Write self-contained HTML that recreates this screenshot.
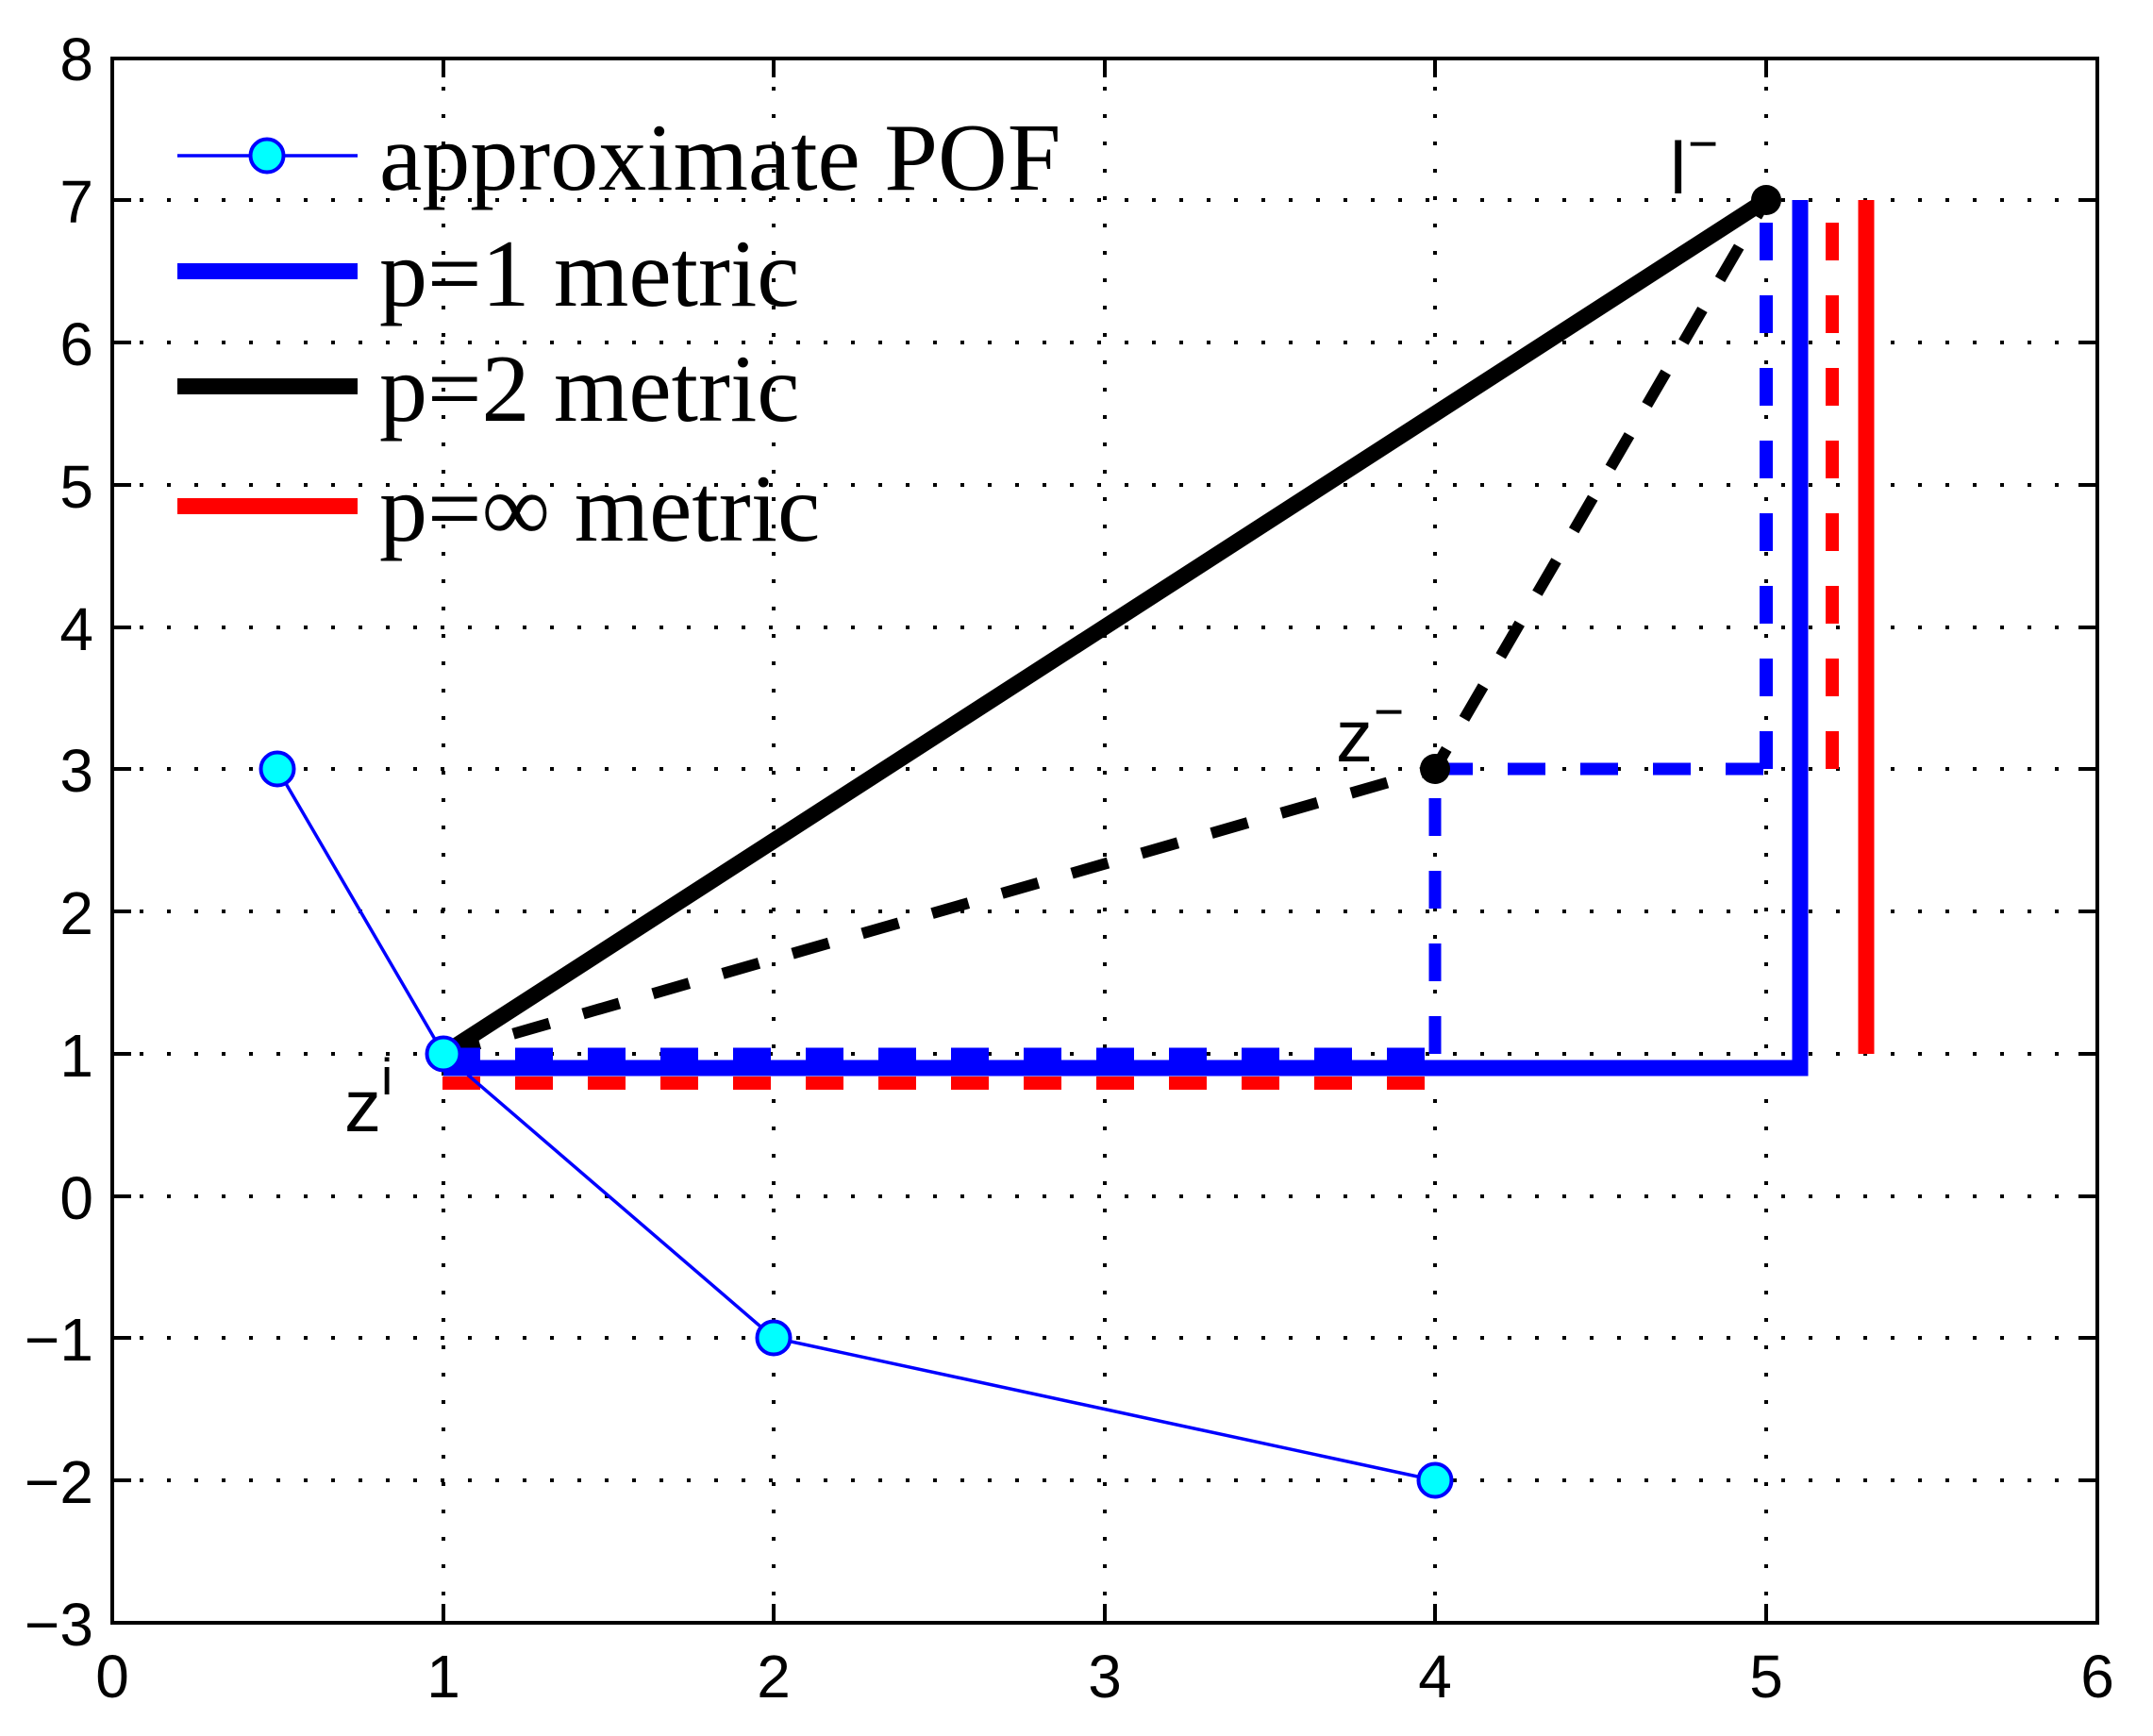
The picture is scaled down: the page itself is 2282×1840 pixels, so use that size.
<!DOCTYPE html>
<html><head><meta charset="utf-8"><style>
html,body{margin:0;padding:0;background:#fff;}
svg{display:block;}
</style></head><body>
<svg width="2282" height="1840" viewBox="0 0 2282 1840" xmlns="http://www.w3.org/2000/svg">
<rect width="2282" height="1840" fill="#fff"/>
<!-- grid -->
<g stroke="#000" stroke-width="4" stroke-dasharray="4 25" fill="none">
<line x1="470" y1="1720" x2="470" y2="62"/>
<line x1="820" y1="1720" x2="820" y2="62"/>
<line x1="1171" y1="1720" x2="1171" y2="62"/>
<line x1="1521" y1="1720" x2="1521" y2="62"/>
<line x1="1872" y1="1720" x2="1872" y2="62"/>
<line x1="119" y1="212" x2="2223" y2="212"/>
<line x1="119" y1="363" x2="2223" y2="363"/>
<line x1="119" y1="514" x2="2223" y2="514"/>
<line x1="119" y1="665" x2="2223" y2="665"/>
<line x1="119" y1="815" x2="2223" y2="815"/>
<line x1="119" y1="966" x2="2223" y2="966"/>
<line x1="119" y1="1117" x2="2223" y2="1117"/>
<line x1="119" y1="1268" x2="2223" y2="1268"/>
<line x1="119" y1="1418" x2="2223" y2="1418"/>
<line x1="119" y1="1569" x2="2223" y2="1569"/>
</g>
<!-- ticks -->
<g stroke="#000" stroke-width="4">
<path d="M470 1720v-20M820 1720v-20M1171 1720v-20M1521 1720v-20M1872 1720v-20M470 62v20M820 62v20M1171 62v20M1521 62v20M1872 62v20"/>
<path d="M119 212h20M119 363h20M119 514h20M119 665h20M119 815h20M119 966h20M119 1117h20M119 1268h20M119 1418h20M119 1569h20"/>
<path d="M2223 212h-20M2223 363h-20M2223 514h-20M2223 665h-20M2223 815h-20M2223 966h-20M2223 1117h-20M2223 1268h-20M2223 1418h-20M2223 1569h-20"/>
</g>
<rect x="119" y="62" width="2104" height="1658" fill="none" stroke="#000" stroke-width="4"/>
<!-- tick labels -->
<g font-family="Liberation Sans, sans-serif" font-size="64" fill="#000" text-anchor="end">
<text x="99" y="85">8</text>
<text x="99" y="236">7</text>
<text x="99" y="387">6</text>
<text x="99" y="538">5</text>
<text x="99" y="689">4</text>
<text x="99" y="839">3</text>
<text x="99" y="990">2</text>
<text x="99" y="1141">1</text>
<text x="99" y="1292">0</text>
<text x="99" y="1442">−1</text>
<text x="99" y="1593">−2</text>
<text x="99" y="1744">−3</text>
</g>
<g font-family="Liberation Sans, sans-serif" font-size="64" fill="#000" text-anchor="middle">
<text x="119" y="1799">0</text>
<text x="470" y="1799">1</text>
<text x="820" y="1799">2</text>
<text x="1171" y="1799">3</text>
<text x="1521" y="1799">4</text>
<text x="1872" y="1799">5</text>
<text x="2223" y="1799">6</text>
</g>
<!-- series -->
<g fill="none" stroke-linecap="butt">
<line x1="470" y1="1117" x2="1872" y2="212" stroke="#000" stroke-width="17"/>
<polyline points="470,1117 1521,815 1872,212" stroke="#000" stroke-width="12" stroke-dasharray="40 37"/>
<line x1="469" y1="1117" x2="1521" y2="1117" stroke="#00f" stroke-width="13" stroke-dasharray="40 37"/>
<line x1="1521" y1="1117" x2="1521" y2="815" stroke="#00f" stroke-width="13" stroke-dasharray="40 37"/>
<line x1="1521" y1="815" x2="1872" y2="815" stroke="#00f" stroke-width="13" stroke-dasharray="40 37"/>
<line x1="1872" y1="815" x2="1872" y2="212" stroke="#00f" stroke-width="14" stroke-dasharray="40 37"/>
<line x1="469" y1="1148" x2="1521" y2="1148" stroke="#f00" stroke-width="14" stroke-dasharray="40 37"/>
<line x1="1942" y1="815" x2="1942" y2="212" stroke="#f00" stroke-width="14" stroke-dasharray="40 37"/>
<polyline points="470,1132 1908,1132 1908,212" stroke="#00f" stroke-width="17"/>
<line x1="1978" y1="1117" x2="1978" y2="212" stroke="#f00" stroke-width="17"/>
</g>
<circle cx="1521" cy="815" r="16" fill="#000"/>
<circle cx="1872" cy="212" r="16" fill="#000"/>
<polyline points="294,815 470,1117 820,1418 1521,1569" fill="none" stroke="#00f" stroke-width="3.5"/>
<g fill="#0ff" stroke="#00f" stroke-width="4">
<circle cx="294" cy="815" r="17.5"/>
<circle cx="470" cy="1117" r="17.5"/>
<circle cx="820" cy="1418" r="17.5"/>
<circle cx="1521" cy="1569" r="17.5"/>
</g>
<!-- annotations -->
<g font-family="Liberation Sans, sans-serif" fill="#000">
<text x="365" y="1199" font-size="78">z</text>
<text x="404" y="1160" font-size="55">i</text>
<text x="1416" y="807" font-size="78">z</text>
<text x="1456" y="773" font-size="55">−</text>
<text x="1770" y="205" font-size="78">l</text>
<text x="1789" y="171" font-size="55">−</text>
</g>
<!-- legend -->
<line x1="188" y1="165" x2="379" y2="165" stroke="#00f" stroke-width="3.5"/>
<circle cx="283" cy="165" r="17.5" fill="#0ff" stroke="#00f" stroke-width="4"/>
<rect x="188" y="279" width="191" height="17" fill="#00f"/>
<rect x="188" y="401" width="191" height="17" fill="#000"/>
<rect x="188" y="528" width="191" height="17" fill="#f00"/>
<g font-family="Liberation Serif, serif" font-size="102" fill="#000">
<text x="402" y="201">approximate POF</text>
<text x="402" y="324">p=1 metric</text>
<text x="402" y="446">p=2 metric</text>
<text x="402" y="573">p=∞ metric</text>
</g>
</svg>
</body></html>
